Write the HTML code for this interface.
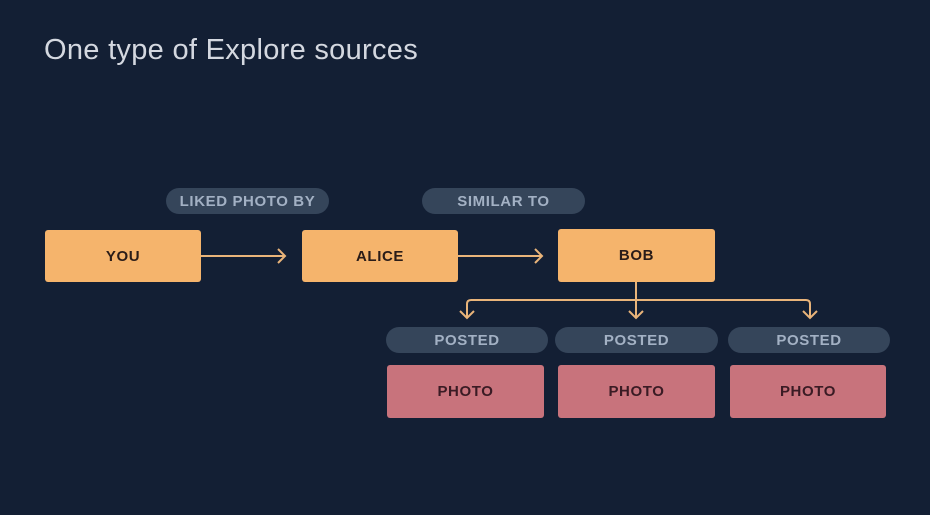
<!DOCTYPE html>
<html><head><style>
body{margin:0;width:930px;height:515px;background:#131f34;overflow:hidden;font-family:"Liberation Sans",sans-serif;position:relative}
.t{position:absolute;left:44px;top:34px;font-size:29px;color:#d4d8e0;font-weight:300;letter-spacing:0.3px}
.b{position:absolute;display:flex;align-items:center;justify-content:center;font-weight:bold;font-size:15px;border-radius:3px;color:#2a1c18;letter-spacing:0.6px}
.o{background:#f5b46c}
.p{background:#c8737c;color:#3a1b24}
.pl{position:absolute;display:flex;align-items:center;justify-content:center;font-weight:bold;font-size:15px;border-radius:13px;background:#35455a;color:#a3b1c4;letter-spacing:0.6px;height:26px}
</style></head><body>
<div class="t">One type of Explore sources</div>
<div class="pl" style="left:166px;top:188px;width:163px">LIKED PHOTO BY</div>
<div class="pl" style="left:422px;top:188px;width:163px">SIMILAR TO</div>
<div class="b o" style="left:45px;top:230px;width:156px;height:52px">YOU</div>
<div class="b o" style="left:302px;top:230px;width:156px;height:52px">ALICE</div>
<div class="b o" style="left:558px;top:229px;width:157px;height:53px">BOB</div>
<svg style="position:absolute;left:0;top:0" width="930" height="515" fill="none" stroke="#e9b47a" stroke-width="2">
<path d="M201 256H285M278 249l7 7-7 7"/>
<path d="M458 256H542M535 249l7 7-7 7"/>
<path d="M636 282V318M629 311l7 7 7-7"/>
<path d="M467 318V304q0-4 4-4H806q4 0 4 4V318"/>
<path d="M460 311l7 7 7-7M803 311l7 7 7-7"/>
</svg>
<div class="pl" style="left:386px;top:327px;width:162px">POSTED</div>
<div class="pl" style="left:555px;top:327px;width:163px">POSTED</div>
<div class="pl" style="left:728px;top:327px;width:162px">POSTED</div>
<div class="b p" style="left:387px;top:365px;width:157px;height:53px">PHOTO</div>
<div class="b p" style="left:558px;top:365px;width:157px;height:53px">PHOTO</div>
<div class="b p" style="left:730px;top:365px;width:156px;height:53px">PHOTO</div>
</body></html>
